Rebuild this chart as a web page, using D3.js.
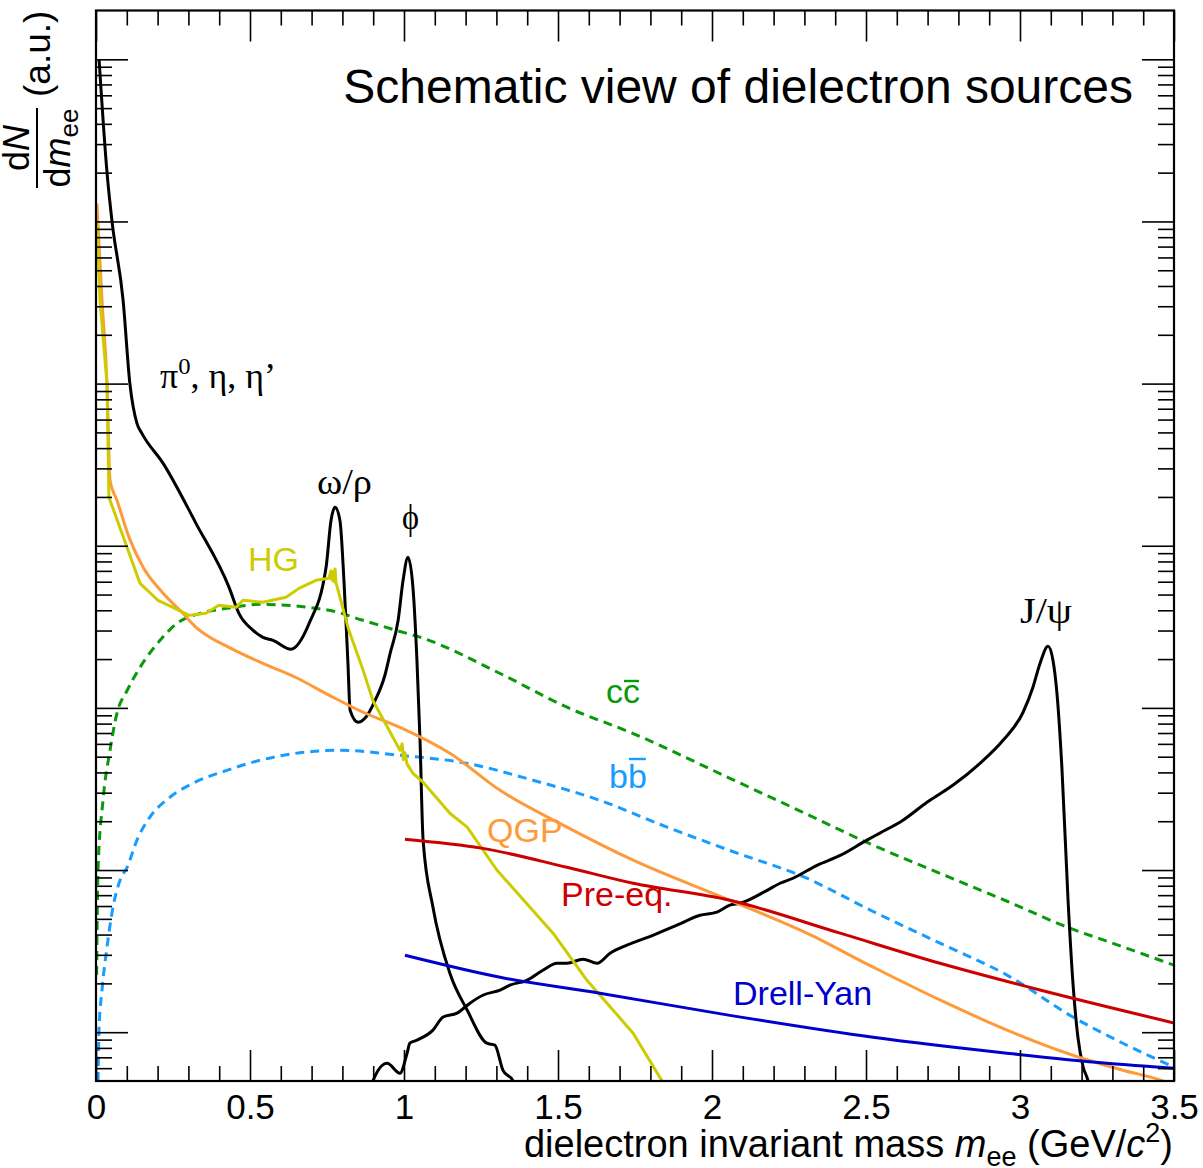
<!DOCTYPE html>
<html><head><meta charset="utf-8">
<script src="https://cdn.jsdelivr.net/npm/d3@7"></script>
<style>body{margin:0;background:#fff}svg{display:block}</style>
</head><body>
<svg id="c" width="1203" height="1168"></svg>
<script>
// ---------- data ----------
const xMajorTicks = [0, 0.5, 1, 1.5, 2, 2.5, 3, 3.5];
const xTickLabels = ["0", "0.5", "1", "1.5", "2", "2.5", "3", "3.5"];
const yDecades = [1, 10, 100, 1e3, 1e4, 1e5, 1e6];

const cocktailX = [0.010,0.036,0.052,0.088,0.110,0.133,0.149,0.218,0.325,0.432,0.464,0.510,0.542,0.575,0.633,0.692,0.747,0.763,0.776,0.792,0.805,0.818,0.825,0.851,0.873,0.906,0.938,0.955,0.981,0.997,1.013,1.029,1.042,1.052,1.062,1.094,1.149,1.205,1.269,1.295,1.321,1.354,1.38];
const cocktailY = [1.0e6,1.98e5,1.0e5,3.26e4,1.0e4,5.68e3,4.93e3,3.22e3,1.37e3,554,383,301,272,261,230,332,736,1433,1725,1433,612,188,96.7,81.5,86.3,111,159,217,347,612,848,554,197,63.1,15.3,5.90,2.31,1.37,0.855,0.832,0.583,0.5,0.3];

const jpsiX = [0.88,0.899,0.945,0.987,1.010,1.019,1.042,1.094,1.127,1.172,1.214,1.256,1.312,1.344,1.399,1.451,1.497,1.529,1.581,1.627,1.669,1.724,1.808,1.886,1.961,2.016,2.058,2.091,2.179,2.221,2.263,2.341,2.416,2.503,2.545,2.620,2.698,2.782,2.870,2.945,3.010,3.042,3.065,3.091,3.107,3.120,3.136,3.156,3.172,3.188,3.205,3.221,3.24];
const jpsiY = [0.3,0.5,0.644,0.559,0.742,0.855,0.893,1.03,1.24,1.31,1.51,1.69,1.82,1.95,2.09,2.41,2.66,2.66,2.82,2.66,3.07,3.44,3.96,4.57,5.26,5.50,6.07,6.24,7.50,8.29,8.90,10.7,12.3,15.3,16.9,20.3,26.2,33.3,45.5,63.1,94.0,134,188,240,197,123,43.0,6.51,2.00,0.93,0.61,0.5,0.3];

const ccX = [0.002,0.0065,0.0227,0.0455,0.068,0.101,0.143,0.208,0.263,0.338,0.425,0.532,0.756,0.867,0.974,1.062,1.312,1.529,1.744,2.058,2.308,2.503,2.740,2.958,3.162,3.282,3.5];
const ccY = [2.25,10,26.9,54.8,92.6,128,178,261,332,383,411,435,400,347,301,269,163,101,69.5,36.8,22.1,14.8,9.55,6.42,4.38,3.64,2.59];

const bbX = [0.0065,0.0097,0.0195,0.0357,0.0552,0.078,0.101,0.133,0.175,0.240,0.315,0.425,0.532,0.792,0.987,1.205,1.419,1.636,1.854,2.058,2.308,2.523,2.740,2.958,3.172,3.334,3.5];
const bbY = [0.5,1.03,1.82,3.34,5.90,8.65,10.4,15.3,21.2,28.1,34.3,41.2,47.5,54.8,51.0,45.5,35.8,26.9,18.4,13.2,8.9,5.55,3.54,2.25,1.24,0.855,0.61];

const qgpX = [0.003,0.0195,0.0357,0.0455,0.068,0.107,0.153,0.218,0.282,0.325,0.432,0.542,0.649,0.756,0.867,0.987,1.149,1.312,1.529,1.744,2.058,2.308,2.523,2.740,2.958,3.172,3.334,3.464,3.52];
const qgpY = [1.29e5,3.26e4,1.0e4,2.53e3,1.91e3,1.13e3,736,509,383,314,236,188,154,120,94.0,75.9,52.5,31.0,18.4,11.5,6.51,4.08,2.52,1.58,1.03,0.721,0.583,0.5,0.45];

const hgX = [0.003,0.013,0.0357,0.042,0.101,0.143,0.201,0.250,0.302,0.357,0.399,0.455,0.477,0.542,0.617,0.659,0.714,0.756,0.763,0.766,0.770,0.773,0.776,0.779,0.786,0.821,0.867,0.899,0.987,0.994,0.998,1.003,1.010,1.029,1.062,1.149,1.205,1.302,1.484,1.594,1.744,1.838,1.86];
const hgY = [1.0e5,3.26e4,1.0e4,1.99e3,977,586,461,417,372,383,429,417,461,448,481,546,612,630,700,615,690,600,720,595,531,301,171,111,54.8,60,48,53,45,39.5,34.8,22.4,18.4,9.97,4.08,2.09,0.986,0.5,0.4];

const preeqX = [1.003,1.256,1.529,1.744,2.058,2.416,2.740,3.065,3.5];
const preeqY = [15.5,13.6,10.4,8.29,6.51,4.08,2.66,1.82,1.14];

const dyX = [1.003,1.312,1.636,2.058,2.523,2.958,3.282,3.5];
const dyY = [2.98,2.18,1.74,1.27,0.93,0.742,0.644,0.60];

// ---------- layout ----------
const L = 96, R = 1174, T = 10.5, B = 1081;
const svg = d3.select("#c");
const x = d3.scaleLinear().domain([0, 3.5]).range([L, R]);
const y = d3.scaleLog().domain([0.5, 2e6]).range([B, T]);
const SANS = "'Liberation Sans', Arial, Helvetica, sans-serif";
const SERIF = "'Liberation Serif', 'Times New Roman', serif";

svg.append("defs").append("clipPath").attr("id", "clip")
  .append("rect").attr("x", L).attr("y", T).attr("width", R - L).attr("height", B - T);

const plot = svg.append("g").attr("clip-path", "url(#clip)");
const zip = (xs, ys) => xs.map((v, i) => [v, ys[i]]);
const lineSmooth = d3.line().x(d => x(d[0])).y(d => y(d[1])).curve(d3.curveMonotoneX);
const lineLin = d3.line().x(d => x(d[0])).y(d => y(d[1]));

function curve(xs, ys, color, dash, gen) {
  plot.append("path").datum(zip(xs, ys))
    .attr("d", gen || lineSmooth)
    .attr("fill", "none").attr("stroke", color).attr("stroke-width", 3)
    .attr("stroke-linejoin", "round")
    .attr("stroke-dasharray", dash || null);
}
curve(ccX, ccY, "#0a990a", "9,6");
curve(bbX, bbY, "#179cff", "9,6");
curve(cocktailX, cocktailY, "#000");
curve(jpsiX, jpsiY, "#000");
curve(qgpX, qgpY, "#ff9a3a");
curve(hgX, hgY, "#cccc00", null, lineLin);
curve(preeqX, preeqY, "#cc0000");
curve(dyX, dyY, "#0000cc");

// ---------- axes ----------
const xMinor = d3.range(0, 36).map(i => i / 10).filter(v => Math.abs(v * 2 - Math.round(v * 2)) > 1e-6);
const yMinor = [];
for (let e = -1; e <= 6; e++) for (let k = 2; k <= 9; k++) {
  const v = k * Math.pow(10, e);
  if (v > 0.5 && v < 2e6) yMinor.push(v);
}
function styleAxis(g) {
  g.select(".domain").remove();
  g.selectAll(".tick line").attr("stroke", "#000").attr("stroke-width", 1.6);
}
svg.append("g").attr("transform", `translate(0,${B})`)
  .call(d3.axisBottom(x).tickValues(xMajorTicks).tickSize(-31).tickPadding(13)
    .tickFormat((d, i) => xTickLabels[i]))
  .call(styleAxis)
  .call(g => g.selectAll("text").attr("font-family", SANS).attr("font-size", 35).attr("fill", "#000"));
svg.append("g").attr("transform", `translate(0,${B})`)
  .call(d3.axisBottom(x).tickValues(xMinor).tickSize(-15).tickFormat("")).call(styleAxis);
svg.append("g").attr("transform", `translate(0,${T})`)
  .call(d3.axisTop(x).tickValues(xMajorTicks).tickSize(-31).tickFormat("")).call(styleAxis);
svg.append("g").attr("transform", `translate(0,${T})`)
  .call(d3.axisTop(x).tickValues(xMinor).tickSize(-15).tickFormat("")).call(styleAxis);
svg.append("g").attr("transform", `translate(${L},0)`)
  .call(d3.axisLeft(y).tickValues(yDecades).tickSize(-32).tickFormat("")).call(styleAxis);
svg.append("g").attr("transform", `translate(${L},0)`)
  .call(d3.axisLeft(y).tickValues(yMinor).tickSize(-16).tickFormat("")).call(styleAxis);
svg.append("g").attr("transform", `translate(${R},0)`)
  .call(d3.axisRight(y).tickValues(yDecades).tickSize(-32).tickFormat("")).call(styleAxis);
svg.append("g").attr("transform", `translate(${R},0)`)
  .call(d3.axisRight(y).tickValues(yMinor).tickSize(-16).tickFormat("")).call(styleAxis);

svg.append("rect").attr("x", L).attr("y", T).attr("width", R - L).attr("height", B - T)
  .attr("fill", "none").attr("stroke", "#000").attr("stroke-width", 2.2);

// ---------- texts ----------
svg.append("text").attr("x", 1133).attr("y", 103).attr("text-anchor", "end")
  .attr("font-family", SANS).attr("font-size", 48).text("Schematic view of dielectron sources");

// x title
const xt = svg.append("text").attr("x", 1173).attr("y", 1157).attr("text-anchor", "end")
  .attr("font-family", SANS).attr("font-size", 38);
xt.append("tspan").text("dielectron invariant mass ");
xt.append("tspan").attr("font-style", "italic").text("m");
xt.append("tspan").attr("font-size", 27).attr("dy", 9).text("ee");
xt.append("tspan").attr("dy", -9).text(" (GeV/");
xt.append("tspan").attr("font-style", "italic").text("c");
xt.append("tspan").attr("font-size", 27).attr("dy", -15).text("2");
xt.append("tspan").attr("dy", 15).text(")");

// y title
const yt = svg.append("g").attr("transform", "translate(37,148) rotate(-90)")
  .attr("font-family", SANS).attr("font-size", 36);
yt.append("line").attr("x1", -40).attr("x2", 40).attr("stroke", "#000").attr("stroke-width", 2);
const num = yt.append("text").attr("x", 0).attr("y", -8).attr("text-anchor", "middle");
num.append("tspan").text("d");
num.append("tspan").attr("font-style", "italic").text("N");
const den = yt.append("text").attr("x", 0).attr("y", 33).attr("text-anchor", "middle");
den.append("tspan").text("d");
den.append("tspan").attr("font-style", "italic").text("m");
den.append("tspan").attr("font-size", 26).attr("dy", 8).text("ee");
yt.append("text").attr("x", 51).attr("y", 13).attr("font-size", 37).text("(a.u.)");

// curve labels
function lab(txt, px, py, color, font, size, len) {
  const t = svg.append("text").attr("x", px).attr("y", py).attr("fill", color)
    .attr("font-family", font).attr("font-size", size).text(txt);
  if (len) t.attr("textLength", len).attr("lengthAdjust", "spacingAndGlyphs");
  return t;
}
const pi = svg.append("text").attr("x", 160).attr("y", 388).attr("font-family", SERIF).attr("font-size", 35)
  .attr("textLength", 116).attr("lengthAdjust", "spacingAndGlyphs");
pi.append("tspan").text("π");
pi.append("tspan").attr("font-size", 24).attr("dy", -14).text("0");
pi.append("tspan").attr("dy", 14).text(", η, η’");
lab("ω/ρ", 317, 494, "#000", SERIF, 35, 55);
lab("ϕ", 402, 529, "#000", SERIF, 36, 17);
lab("J/ψ", 1020, 623, "#000", SERIF, 35, 52);
lab("HG", 248, 571, "#cccc00", SANS, 34);
lab("QGP", 487, 842, "#ff9a3a", SANS, 34);
lab("Pre-eq.", 561, 906, "#cc0000", SANS, 34);
lab("Drell-Yan", 733, 1005, "#0000cc", SANS, 34);

function barLabel(txt, px, py, color, lift) {
  const t = lab(txt, px, py, color, SANS, 34);
  const n = t.node();
  const s = n.getStartPositionOfChar(1).x, e = n.getEndPositionOfChar(1).x;
  svg.append("line").attr("x1", s + 1).attr("x2", e - 1).attr("y1", py - lift).attr("y2", py - lift)
    .attr("stroke", color).attr("stroke-width", 2.4);
}
barLabel("cc", 606, 703, "#0a990a", 22);
barLabel("bb", 609, 788, "#179cff", 29);
</script>
</body></html>
